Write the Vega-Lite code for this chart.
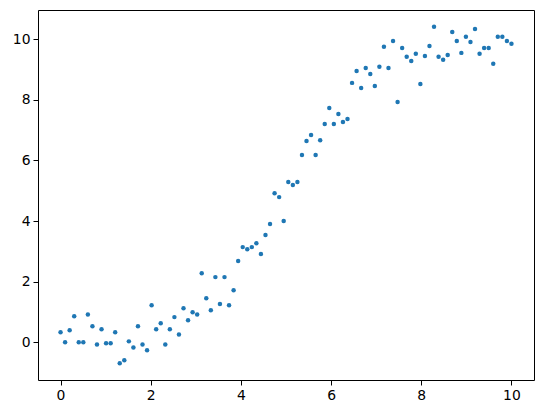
{
  "$schema": "https://vega.github.io/schema/vega-lite/v6.json",
  "autosize": "none",
  "width": 496,
  "height": 370,
  "padding": {"left": 38, "top": 10, "right": 9, "bottom": 33},
  "background": "white",
  "config": {
    "view": {"stroke": "#000", "strokeWidth": 1},
    "axis": {
      "grid": false,
      "domain": false,
      "ticks": true,
      "tickColor": "#000",
      "tickSize": 5,
      "tickWidth": 1,
      "labelFont": "DejaVu Sans",
      "labelFontSize": 13.9,
      "labelColor": "#000",
      "labelPadding": 3,
      "title": null
    }
  },
  "data": {"values": [
    {"x": 0.0, "y": 0.33}, {"x": 0.101, "y": 0.0}, {"x": 0.202, "y": 0.4}, {"x": 0.303, "y": 0.86},
    {"x": 0.404, "y": 0.0}, {"x": 0.505, "y": 0.0}, {"x": 0.606, "y": 0.92}, {"x": 0.707, "y": 0.53},
    {"x": 0.808, "y": -0.07}, {"x": 0.909, "y": 0.43}, {"x": 1.01, "y": -0.03}, {"x": 1.111, "y": -0.03},
    {"x": 1.212, "y": 0.33}, {"x": 1.313, "y": -0.69}, {"x": 1.414, "y": -0.59}, {"x": 1.515, "y": 0.03},
    {"x": 1.616, "y": -0.17}, {"x": 1.717, "y": 0.53}, {"x": 1.818, "y": -0.07}, {"x": 1.919, "y": -0.26},
    {"x": 2.02, "y": 1.22}, {"x": 2.121, "y": 0.43}, {"x": 2.222, "y": 0.63}, {"x": 2.323, "y": -0.07},
    {"x": 2.424, "y": 0.43}, {"x": 2.525, "y": 0.83}, {"x": 2.626, "y": 0.26}, {"x": 2.727, "y": 1.12},
    {"x": 2.828, "y": 0.73}, {"x": 2.929, "y": 0.99}, {"x": 3.03, "y": 0.92}, {"x": 3.131, "y": 2.28},
    {"x": 3.232, "y": 1.45}, {"x": 3.333, "y": 1.06}, {"x": 3.434, "y": 2.15}, {"x": 3.535, "y": 1.26},
    {"x": 3.636, "y": 2.15}, {"x": 3.737, "y": 1.22}, {"x": 3.838, "y": 1.72}, {"x": 3.939, "y": 2.68},
    {"x": 4.04, "y": 3.14}, {"x": 4.141, "y": 3.07}, {"x": 4.242, "y": 3.14}, {"x": 4.343, "y": 3.27},
    {"x": 4.444, "y": 2.91}, {"x": 4.545, "y": 3.54}, {"x": 4.646, "y": 3.9}, {"x": 4.747, "y": 4.92},
    {"x": 4.848, "y": 4.79}, {"x": 4.949, "y": 4.0}, {"x": 5.051, "y": 5.29}, {"x": 5.152, "y": 5.19},
    {"x": 5.253, "y": 5.29}, {"x": 5.354, "y": 6.18}, {"x": 5.455, "y": 6.64}, {"x": 5.556, "y": 6.84},
    {"x": 5.657, "y": 6.18}, {"x": 5.758, "y": 6.67}, {"x": 5.859, "y": 7.2}, {"x": 5.96, "y": 7.73},
    {"x": 6.061, "y": 7.2}, {"x": 6.162, "y": 7.53}, {"x": 6.263, "y": 7.27}, {"x": 6.364, "y": 7.37},
    {"x": 6.465, "y": 8.56}, {"x": 6.566, "y": 8.95}, {"x": 6.667, "y": 8.39}, {"x": 6.768, "y": 9.05},
    {"x": 6.869, "y": 8.85}, {"x": 6.97, "y": 8.46}, {"x": 7.071, "y": 9.09}, {"x": 7.172, "y": 9.75},
    {"x": 7.273, "y": 9.05}, {"x": 7.374, "y": 9.94}, {"x": 7.475, "y": 7.93}, {"x": 7.576, "y": 9.71},
    {"x": 7.677, "y": 9.42}, {"x": 7.778, "y": 9.28}, {"x": 7.879, "y": 9.52}, {"x": 7.98, "y": 8.52},
    {"x": 8.081, "y": 9.45}, {"x": 8.182, "y": 9.78}, {"x": 8.283, "y": 10.41}, {"x": 8.384, "y": 9.42},
    {"x": 8.485, "y": 9.32}, {"x": 8.586, "y": 9.48}, {"x": 8.687, "y": 10.24}, {"x": 8.788, "y": 9.94},
    {"x": 8.889, "y": 9.55}, {"x": 8.99, "y": 10.08}, {"x": 9.091, "y": 9.91}, {"x": 9.192, "y": 10.34},
    {"x": 9.293, "y": 9.52}, {"x": 9.394, "y": 9.71}, {"x": 9.495, "y": 9.71}, {"x": 9.596, "y": 9.19},
    {"x": 9.697, "y": 10.08}, {"x": 9.798, "y": 10.08}, {"x": 9.899, "y": 9.94}, {"x": 10.0, "y": 9.85}
  ]},
  "mark": {"type": "circle", "color": "#1f77b4", "opacity": 1, "size": 20},
  "encoding": {
    "x": {
      "field": "x", "type": "quantitative",
      "scale": {"domain": [-0.5, 10.5], "nice": false, "zero": false},
      "axis": {"values": [0, 2, 4, 6, 8, 10]}
    },
    "y": {
      "field": "y", "type": "quantitative",
      "scale": {"domain": [-1.245, 10.965], "nice": false, "zero": false},
      "axis": {"values": [0, 2, 4, 6, 8, 10]}
    }
  }
}
